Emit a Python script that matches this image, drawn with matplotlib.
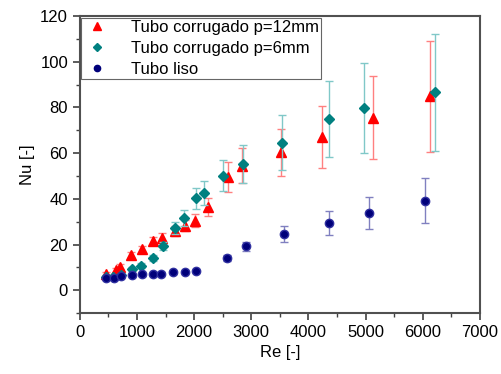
import matplotlib
matplotlib.use("Agg")
import matplotlib.pyplot as plt
from matplotlib.ticker import MultipleLocator
from matplotlib.lines import Line2D

plt.rcParams['font.family'] = ['Liberation Sans', 'DejaVu Sans']

# Tubo corrugado p=12mm
re12 = [461, 626, 702, 889, 1082, 1275, 1439, 1667, 1836, 2018, 2240, 2591, 2830, 3514, 4234, 5123, 6123]
nu12 = [7.3, 8.9, 10.3, 15.5, 18.0, 21.4, 23.0, 25.8, 28.3, 30.5, 36.4, 49.6, 54.5, 60.3, 67.0, 75.6, 84.9]
err12 = [0.8, 1.0, 1.1, 1.3, 1.5, 1.7, 1.9, 2.2, 2.5, 3.0, 4.0, 6.6, 7.6, 10.3, 13.5, 18.3, 24.4]

# Tubo corrugado p=6mm
re6 = [461, 585, 713, 912, 1064, 1281, 1462, 1667, 1819, 2041, 2175, 2503, 2860, 3532, 4351, 4971, 6211]
nu6 = [5.9, 5.9, 6.6, 9.2, 10.8, 13.9, 19.4, 27.3, 31.7, 40.2, 42.7, 50.2, 55.1, 64.6, 75.0, 79.7, 86.6]
err6 = [0.6, 0.6, 0.7, 0.9, 1.0, 1.3, 1.8, 2.5, 3.5, 4.5, 5.3, 6.8, 8.3, 11.9, 16.5, 19.7, 25.5]

# Tubo liso
reL = [461, 596, 725, 912, 1094, 1275, 1421, 1626, 1836, 2041, 2567, 2912, 3579, 4351, 5064, 6041]
nuL = [5.5, 5.5, 6.0, 6.6, 6.9, 7.2, 7.3, 7.8, 8.0, 8.4, 14.1, 19.2, 24.5, 29.5, 33.8, 39.2]
errL = [0.4, 0.4, 0.4, 0.5, 0.5, 0.5, 0.5, 0.6, 0.6, 0.6, 1.2, 2.0, 3.6, 5.2, 6.8, 9.7]

labels = ['Tubo corrugado p=12mm', 'Tubo corrugado p=6mm', 'Tubo liso']

fig = plt.figure(figsize=(5.02, 3.74), dpi=100)
ax = fig.add_axes([0.159, 0.163, 0.797, 0.794])

ax.errorbar(re12, nu12, yerr=err12, fmt='^', color='#ff0000', ms=6.5, mec='#ff0000',
            ecolor='#ff8080', elinewidth=1.0, capsize=3, capthick=1.0, zorder=3)
ax.errorbar(re6, nu6, yerr=err6, fmt='D', color='#008080', ms=5.5, mec='#008080',
            ecolor='#80c8c8', elinewidth=1.0, capsize=3, capthick=1.0, zorder=4)
ax.errorbar(reL, nuL, yerr=errL, fmt='o', color='#00007a', ms=6, mec='#3030a0',
            ecolor='#8080c0', elinewidth=1.0, capsize=3, capthick=1.0, zorder=5)

ax.set_xlim(0, 7000)
ax.set_ylim(-10, 120)
ax.xaxis.set_major_locator(MultipleLocator(1000))
ax.xaxis.set_minor_locator(MultipleLocator(500))
ax.yaxis.set_major_locator(MultipleLocator(20))
ax.yaxis.set_minor_locator(MultipleLocator(10))
ax.tick_params(which='both', direction='out', top=False, right=False, labelsize=12, color='#404040')
ax.tick_params(which='major', length=5, width=1.2)
ax.tick_params(which='minor', length=3, width=1.0)
for s in ax.spines.values():
    s.set_linewidth(1.5)
    s.set_color('#505050')

ax.set_xlabel('Re [-]', fontsize=12)
ax.set_ylabel('Nu [-]', fontsize=12)

handles = [
    Line2D([], [], ls='none', marker='^', ms=5.5, color='#ff0000'),
    Line2D([], [], ls='none', marker='D', ms=4.5, color='#008080'),
    Line2D([], [], ls='none', marker='o', ms=4.5, color='#00007a'),
]
leg = ax.legend(handles, labels, loc='upper left', fontsize=12, frameon=True, fancybox=False,
                borderpad=0.15, labelspacing=0.35, handletextpad=1.2,
                borderaxespad=0.1, handlelength=1.6)
leg.get_frame().set_edgecolor('#404040')
leg.get_frame().set_linewidth(0.8)

fig.savefig('out.png', dpi=100)
